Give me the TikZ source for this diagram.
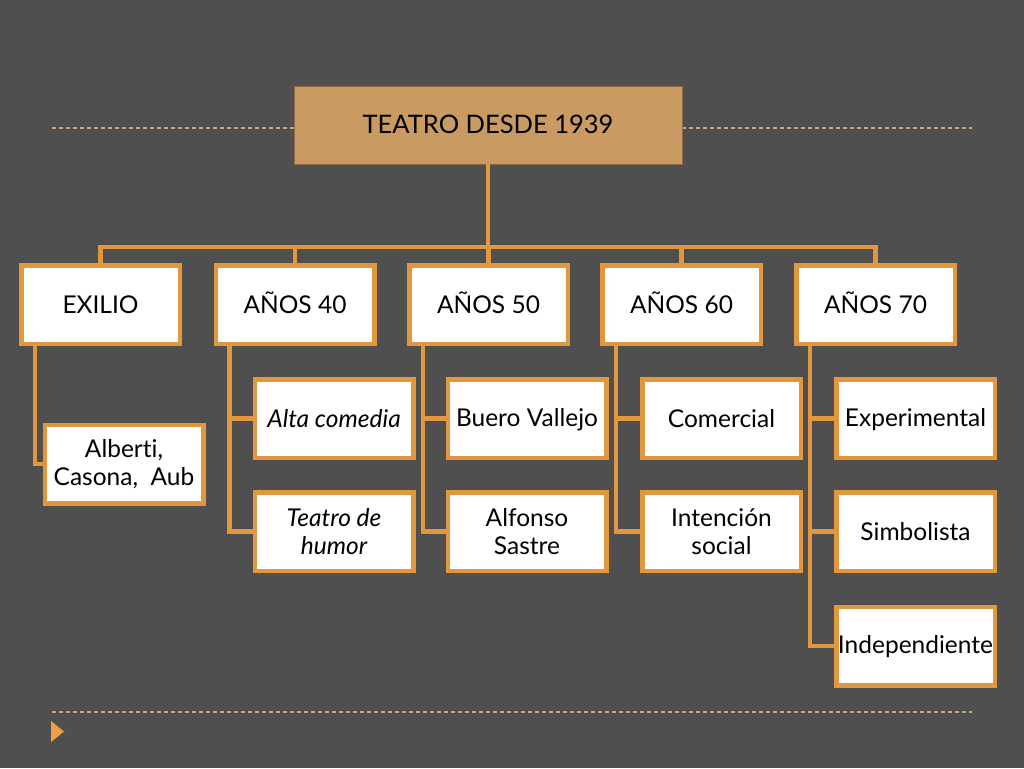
\documentclass[tikz,border=0pt]{standalone}
\usepackage{fontspec}
\setmainfont[Ligatures = NoCommon, RawFeature = {-liga;-dlig}]{Lato}

\definecolor{fondo}{HTML}{4F4F4F}
\definecolor{naranja}{HTML}{E2963E}
\definecolor{carton}{HTML}{C99B62}
\definecolor{guion}{HTML}{C9A97A}
\definecolor{flecha}{HTML}{F0A040}

\newcommand{\puntal}{\rule[-3pt]{0pt}{23pt}}

\begin{document}
\begin{tikzpicture}[x = 1pt, y = -1pt,
    caja/.style = {draw = naranja, line width = 4.5pt, fill = white,
      minimum width = 158.5pt, minimum height = 78.5pt, inner sep = 0pt,
      align = center, font = \fontsize{24.5}{28}\selectfont},
    rama/.style = {draw = naranja, line width = 4.5pt},
    guiones/.style = {draw = guion, line width = 1.2pt, dash pattern = on 4pt off 3pt}]

    \fill[fondo] (0, 0) rectangle (1024, 768);

    \draw[guiones] (52, 128) -- (294, 128);
    \draw[guiones] (682, 128) -- (972, 128);
    \draw[guiones] (52, 712) -- (972, 712);
    \fill[flecha] (51, 721) -- (64, 731.5) -- (51, 742) -- cycle;

    \node[draw = carton!70!black, line width = 0.6pt, fill = carton,
      minimum width = 388pt, minimum height = 78pt,
      font = \fontsize{25.5}{28}\selectfont] (titulo) at (488, 125) {\puntal TEATRO DESDE 1939};

    \node[caja] (exilio) at (100.5, 304.5) {\puntal EXILIO};
    \node[caja] (a40) at (295, 304.5) {\puntal AÑOS 40};
    \node[caja] (a50) at (488.5, 304.5) {\puntal AÑOS 50};
    \node[caja] (a60) at (681.5, 304.5) {\puntal AÑOS 60};
    \node[caja] (a70) at (875.5, 304.5) {\puntal AÑOS 70};

    \node[caja] (autores) at (124, 464) {Alberti,\\Casona,\ \ Aub};
    \node[caja] (alta) at (334, 418.5) {\puntal\itshape Alta comedia};
    \node[caja] (humor) at (334, 531.5) {\itshape Teatro de\\\itshape humor};
    \node[caja] (buero) at (527, 418.5) {\puntal Buero Vallejo};
    \node[caja] (sastre) at (527, 531.5) {Alfonso\\Sastre};
    \node[caja] (comercial) at (721.5, 418.5) {\puntal Comercial};
    \node[caja] (social) at (721.5, 531.5) {Intención\\social};
    \node[caja] (experim) at (915.5, 418.5) {\puntal Experimental};
    \node[caja] (simbol) at (915.5, 531.5) {\puntal Simbolista};
    \node[caja] (indep) at (915.5, 646) {\puntal Independiente};

    \coordinate (barra) at (488, 247);
    \draw[rama] (titulo.south) -- (barra);
    \foreach \n in {exilio, a40, a50, a60, a70}
      \draw[rama] (\n.north) |- (barra);

    \draw[rama] ([xshift = 16pt]exilio.south west) |- (autores.west);
    \draw[rama] ([xshift = 16pt]a40.south west) |- (alta.west);
    \draw[rama] ([xshift = 16pt]a40.south west) |- (humor.west);
    \draw[rama] ([xshift = 16pt]a50.south west) |- (buero.west);
    \draw[rama] ([xshift = 16pt]a50.south west) |- (sastre.west);
    \draw[rama] ([xshift = 16pt]a60.south west) |- (comercial.west);
    \draw[rama] ([xshift = 16pt]a60.south west) |- (social.west);
    \draw[rama] ([xshift = 16pt]a70.south west) |- (experim.west);
    \draw[rama] ([xshift = 16pt]a70.south west) |- (simbol.west);
    \draw[rama] ([xshift = 16pt]a70.south west) |- (indep.west);

  \end{tikzpicture}
\end{document}
